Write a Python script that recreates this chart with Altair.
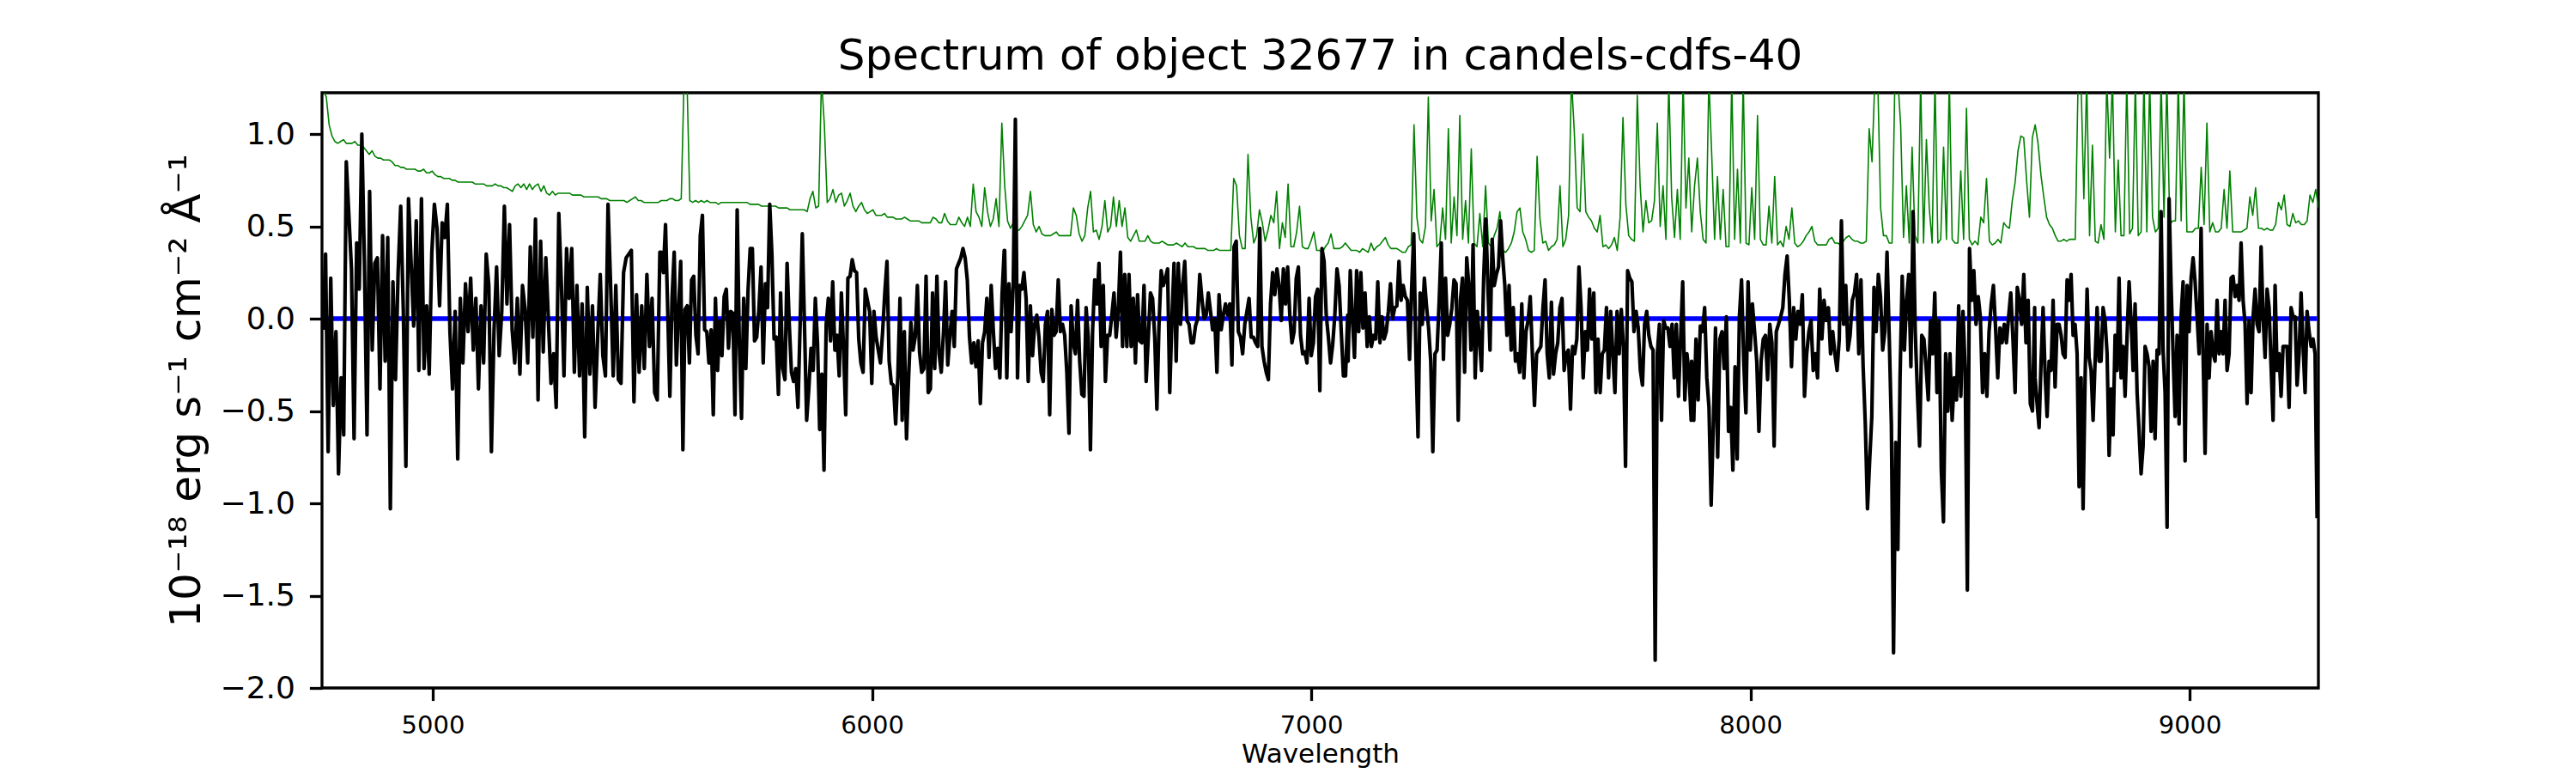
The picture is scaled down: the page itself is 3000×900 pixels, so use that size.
import numpy as np
import pandas as pd
import altair as alt

# ---------------- data ----------------
# Observed flux (black), read in six consecutive wavelength pieces.
FLUX_PIECE_RANGES = [(4750, 5517), (5520, 6301), (6302, 7083),
                     (7084, 7865), (7866, 8647), (8648, 9290)]

FLUX_1 = [-0.06,0.35,-0.72,0.22,-0.47,-0.07,-0.84,-0.32,-0.63,0.85,0.56,0.27,-0.65,0.41,0.16,1.0,0.3,-0.63,0.69,-0.17,
          0.3,0.33,-0.38,0.45,-0.23,0.44,-1.03,0.2,-0.33,0.25,0.61,0.05,-0.8,0.65,0.31,-0.04,0.53,-0.28,0.65,-0.27,
          0.07,-0.3,0.36,0.62,0.49,0.07,0.52,0.44,0.62,-0.07,-0.38,0.04,-0.76,0.11,-0.24,0.19,-0.07,0.22,-0.17,0.11,
          -0.38,0.07,-0.24,0.35,0.18,-0.72,-0.07,0.28,-0.2,0.04,0.61,0.08,0.51,-0.06,-0.24,0.11,-0.3,0.18,0.05,-0.24,
          0.39,-0.1,0.54,-0.44,0.42,-0.18,0.33,-0.01,-0.35,-0.19,-0.48,0.57,0.19,-0.31,0.38,0.11,0.38,-0.29,0.18,-0.31,
          0.08,-0.64,0.17,-0.3,0.07,-0.48,-0.1,0.24,-0.2,-0.31,0.62,0.18,-0.31,0.18,-0.33,-0.35,0.25,0.33,0.35,0.37,
          -0.45,0.13,-0.29,0.07,-0.27,0.24,-0.15,0.11,-0.4,-0.44,0.36]
FLUX_2 = [0.36,0.25,0.51,0.05,-0.42,0.11,0.36,-0.25,0.04,0.31,-0.71,0.05,0.07,-0.24,0.21,0.23,-0.09,-0.19,0.45,0.56,
          -0.06,-0.07,-0.24,-0.06,-0.52,0.11,-0.28,-0.01,-0.2,0.12,0.16,-0.16,0.04,0.03,-0.52,0.59,-0.13,-0.54,0.11,-0.27,
          0.15,0.38,0.38,-0.12,-0.1,0.05,0.28,-0.24,0.19,0.06,0.62,0.35,-0.11,-0.1,-0.41,0.14,-0.27,-0.33,0.3,-0.03,
          -0.29,-0.34,-0.27,-0.48,-0.03,0.46,-0.03,-0.55,-0.38,-0.16,-0.28,0.11,-0.13,-0.6,-0.3,-0.82,-0.03,0.11,-0.12,0.2,
          -0.17,-0.09,-0.31,0.14,-0.16,-0.52,0.22,0.23,0.32,0.26,0.25,-0.11,-0.24,-0.29,0.16,0.1,0.04,-0.35,0.04,-0.1,
          -0.17,-0.24,-0.07,0.14,0.31,-0.23,-0.35,-0.36,-0.57,-0.31,0.11,-0.55,-0.07,-0.65,-0.31,-0.02,-0.17,-0.1,0.18,-0.18,
          -0.29,-0.27,0.23,-0.4,-0.38,0.14,-0.27,0.23,-0.19,-0.29,-0.08,0.2,-0.25,-0.09,0.04,-0.15,0.27,0.3,0.33,0.38,
          0.33,0.21,-0.1,-0.24,-0.13,-0.26,-0.12,-0.46,-0.13,-0.07,0.11,-0.21,0.18,-0.07,-0.27,-0.16,-0.32,0.13,0.37]
FLUX_3 = [0.37,-0.32,0.19,-0.07,0.18,1.08,-0.32,0.18,0.16,0.25,0.11,-0.34,0.07,-0.2,-0.03,0.02,-0.1,-0.29,-0.34,-0.03,
          0.04,-0.52,0.05,-0.09,-0.07,0.21,-0.07,-0.03,-0.09,-0.29,-0.62,0.07,-0.13,-0.19,0.1,-0.23,-0.41,-0.42,0.06,-0.1,
          -0.71,-0.07,0.21,0.08,0.3,-0.15,0.18,-0.34,-0.09,-0.09,0.02,0.14,-0.1,0.05,0.36,-0.15,0.24,-0.15,0.24,-0.15,
          0.11,-0.24,0.13,-0.12,-0.13,0.18,-0.34,-0.1,0.14,0.11,-0.1,-0.49,-0.03,0.26,0.18,0.22,0.27,-0.4,-0.01,0.3,
          -0.23,0.3,-0.03,0.18,0.31,-0.01,-0.03,-0.13,-0.13,-0.04,0.0,0.24,0.11,0.0,0.02,0.14,0.04,-0.06,0.0,-0.29,
          0.13,-0.06,0.02,0.08,0.02,0.08,-0.25,0.39,0.42,-0.07,-0.1,-0.19,-0.03,0.04,0.11,-0.1,-0.1,-0.13,-0.15,0.49,
          -0.15,-0.23,-0.29,-0.33,0.08,0.25,0.13,0.27,0.18,-0.01,0.27,0.08,0.28,0.02,-0.13,-0.07,0.22,0.28,-0.09,-0.19,
          -0.18,-0.24,0.11,-0.2,-0.13,0.12,0.16,-0.39,0.38,0.31,0.02,-0.1,-0.24,-0.14,0.02,0.27,0.18,-0.07,-0.31,-0.31,0.02]
FLUX_4 = [-0.23,0.26,0.01,-0.21,0.26,-0.07,0.25,-0.05,0.14,-0.15,0.01,-0.15,-0.09,-0.11,0.2,-0.13,0.01,-0.11,-0.07,0.04,
          0.19,0.0,0.06,0.07,0.31,0.1,0.18,0.12,0.1,-0.22,0.17,0.46,-0.19,-0.64,0.14,-0.03,0.22,0.07,-0.05,-0.23,
          -0.72,-0.19,-0.17,0.1,0.41,-0.22,0.22,-0.09,-0.03,0.06,0.21,0.19,-0.55,0.1,0.22,-0.29,0.33,0.18,-0.17,0.4,
          -0.32,0.04,-0.11,-0.28,0.22,0.54,0.18,-0.17,0.43,0.18,0.24,0.28,0.53,0.33,0.18,-0.09,0.18,-0.17,0.06,-0.23,
          -0.19,-0.29,0.08,-0.32,-0.07,-0.01,0.12,-0.19,-0.47,-0.19,-0.17,-0.15,0.06,0.21,-0.19,-0.32,0.09,-0.3,-0.19,-0.13,
          0.06,0.11,-0.28,-0.19,-0.17,-0.49,-0.15,-0.19,-0.11,0.28,0.06,-0.32,-0.07,-0.17,0.16,-0.11,0.14,-0.4,-0.11,-0.4,
          -0.19,-0.17,0.06,-0.32,0.04,-0.19,-0.4,0.04,-0.19,0.05,-0.15,-0.8,0.26,0.22,0.2,-0.07,0.04,-0.05,-0.28,-0.36,
          -0.03,0.04,-0.09,-0.15,-0.17,-1.85,-0.19,-0.03,-0.55,-0.01,-0.05,-0.05,-0.15,-0.03,-0.32,-0.03,-0.42,-0.11,0.2,-0.44,
          -0.19,-0.3,-0.55]
FLUX_5 = [-0.23,-0.55,-0.11,-0.44,-0.04,-0.07,0.06,-0.32,-0.48,-1.01,-0.57,-0.05,-0.75,-0.11,-0.07,-0.27,0.01,-0.61,-0.48,-0.82,
          -0.26,-0.76,0.01,0.21,-0.23,-0.51,0.2,-0.17,0.08,-0.07,-0.23,-0.61,-0.23,-0.11,-0.09,-0.33,-0.03,-0.13,-0.69,-0.07,
          -0.03,0.01,0.06,0.24,0.34,0.1,-0.26,0.06,-0.11,0.04,-0.03,0.13,-0.42,-0.19,-0.07,-0.01,-0.28,-0.19,-0.32,0.16,
          -0.11,0.1,-0.01,0.06,-0.19,-0.07,-0.19,-0.28,-0.11,0.53,-0.03,0.18,-0.17,-0.09,0.1,0.14,0.24,-0.19,0.21,-0.26,
          -0.57,-1.03,-0.77,-0.53,0.17,-0.07,0.24,0.12,-0.17,-0.07,0.36,-0.09,-0.57,-1.81,-0.67,-1.25,-0.32,0.23,-0.17,0.1,
          0.24,-0.26,0.58,-0.07,-0.4,-0.69,-0.09,-0.11,-0.26,-0.44,-0.01,-0.19,0.14,-0.4,-0.01,-0.82,-1.1,-0.19,-0.5,-0.19,
          -0.55,-0.32,-0.44,0.07,-0.42,0.04,-0.28,-1.47,0.38,0.1,0.26,-0.03,0.12,0.01,-0.4,-0.19,-0.42,-0.07,0.08,0.18,
          -0.05,-0.32,-0.05,-0.13,-0.03,-0.13,0.01,0.14,-0.11,-0.4,0.17,0.1,-0.03,0.24,-0.13,0.1,-0.46,-0.5,0.06]
FLUX_6 = [-0.32,-0.46,-0.59,-0.23,0.06,-0.3,-0.53,-0.23,-0.28,0.1,-0.37,-0.03,-0.03,-0.09,-0.19,-0.21,0.21,0.1,0.24,-0.09,
          -0.03,-0.19,-0.91,-0.32,-1.03,-0.32,0.16,-0.21,-0.28,-0.55,-0.23,0.06,-0.23,-0.23,0.06,-0.01,-0.19,-0.74,-0.38,-0.63,
          -0.09,-0.28,0.22,-0.32,-0.15,-0.42,-0.09,0.2,-0.01,-0.28,0.08,-0.4,-0.61,-0.84,-0.69,-0.15,-0.19,-0.26,-0.61,-0.23,
          -0.65,-0.17,-0.19,0.58,-0.17,-0.4,-1.13,0.65,0.18,-0.19,-0.53,-0.09,-0.57,0.01,0.2,-0.77,0.18,-0.07,0.22,0.33,
          0.2,0.01,-0.19,0.49,-0.19,-0.73,-0.03,-0.32,-0.07,-0.19,-0.23,0.1,-0.19,-0.07,-0.19,0.1,-0.28,-0.19,0.22,0.23,
          0.12,0.18,0.1,0.41,0.1,-0.03,-0.46,-0.01,-0.4,0.01,0.16,-0.03,-0.07,0.39,0.01,-0.21,0.16,0.06,-0.26,-0.55,
          0.18,-0.28,-0.19,-0.42,-0.15,-0.15,-0.15,-0.48,0.06,0.01,0.01,-0.36,-0.19,0.14,-0.15,-0.4,0.04,-0.07,-0.15,-0.11,
          -0.19,-1.08]
FLUX_PIECES = [FLUX_1, FLUX_2, FLUX_3, FLUX_4, FLUX_5, FLUX_6]

# Noise / sky spectrum (green), on a regular wavelength grid.
# 1.3 marks sky lines that run off the top of the plot.
SKY_WL_START = 4738.0
SKY_WL_STEP = 6.517
SKY_1 = [1.3,1.3,1.24,1.2,1.05,0.99,0.96,0.95,0.96,0.97,0.95,0.95,0.95,0.96,0.94,0.94,0.93,0.91,0.89,0.91,
         0.88,0.87,0.87,0.86,0.86,0.86,0.85,0.83,0.83,0.82,0.82,0.81,0.81,0.81,0.81,0.8,0.8,0.81,0.79,0.79,
         0.8,0.78,0.77,0.77,0.76,0.76,0.76,0.75,0.75,0.74,0.74,0.74,0.74,0.74,0.74,0.73,0.73,0.73,0.73,0.72,
         0.72,0.72,0.73,0.72,0.72,0.71,0.71,0.7,0.69,0.72,0.73,0.71,0.73,0.7,0.73,0.7,0.72,0.73,0.69,0.72,
         0.68,0.67,0.69,0.67,0.68,0.68,0.68,0.68,0.68,0.67,0.67,0.67,0.67,0.66,0.66,0.66,0.66,0.66,0.66,0.65,
         0.65,0.65,0.64,0.64,0.64,0.64,0.64,0.64,0.63,0.64,0.65,0.66,0.64,0.64,0.63,0.63,0.63,0.63,0.63,0.63]
SKY_2 = [0.64,0.64,0.64,0.65,0.65,0.64,0.64,0.65,1.3,1.3,0.64,0.63,0.64,0.63,0.64,0.63,0.64,0.63,0.63,0.63,
         0.62,0.63,0.63,0.63,0.63,0.63,0.63,0.63,0.63,0.63,0.63,0.62,0.62,0.62,0.62,0.61,0.61,0.61,0.61,0.61,
         0.61,0.6,0.6,0.6,0.6,0.59,0.59,0.59,0.59,0.59,0.59,0.58,0.65,0.69,0.6,0.61,1.3,1.05,0.63,0.65,
         0.7,0.63,0.67,0.68,0.61,0.64,0.68,0.61,0.58,0.61,0.63,0.59,0.57,0.58,0.59,0.56,0.56,0.56,0.57,0.55,
         0.55,0.55,0.54,0.54,0.54,0.55,0.54,0.53,0.53,0.53,0.53,0.52,0.52,0.52,0.52,0.55,0.54,0.52,0.52,0.57,
         0.53,0.51,0.51,0.51,0.55,0.52,0.5,0.55,0.5,0.73,0.58,0.55,0.5,0.71,0.58,0.5,0.54,0.65,0.5,1.06]
SKY_3 = [0.72,0.53,0.49,0.52,0.48,0.48,0.5,0.53,0.56,0.69,0.51,0.47,0.5,0.46,0.45,0.45,0.45,0.46,0.47,0.45,
         0.45,0.45,0.45,0.45,0.6,0.56,0.46,0.42,0.45,0.6,0.69,0.47,0.48,0.43,0.5,0.64,0.47,0.5,0.66,0.5,
         0.64,0.5,0.6,0.44,0.42,0.45,0.48,0.42,0.42,0.42,0.45,0.42,0.41,0.41,0.41,0.42,0.41,0.4,0.4,0.4,
         0.41,0.4,0.39,0.41,0.39,0.39,0.39,0.38,0.38,0.38,0.38,0.37,0.37,0.37,0.38,0.37,0.37,0.37,0.37,0.37,
         0.76,0.72,0.45,0.38,0.38,0.89,0.55,0.41,0.45,0.59,0.52,0.42,0.48,0.56,0.52,0.69,0.38,0.52,0.44,0.73,
         0.39,0.39,0.47,0.61,0.39,0.38,0.38,0.42,0.47,0.37,0.37,0.36,0.39,0.41,0.46,0.38,0.38,0.38,0.39,0.41]
SKY_4 = [0.39,0.37,0.37,0.37,0.36,0.38,0.37,0.36,0.41,0.37,0.39,0.4,0.42,0.44,0.4,0.38,0.38,0.38,0.37,0.36,
         0.36,0.39,0.4,1.05,0.55,0.43,0.41,0.5,1.2,0.53,0.7,0.39,0.41,0.6,0.43,1.03,0.41,0.66,0.45,1.1,
         0.43,0.64,0.41,0.92,0.41,0.39,0.57,0.39,0.72,0.41,0.39,0.45,0.49,0.58,0.37,0.36,0.38,0.41,0.47,0.58,
         0.6,0.47,0.43,0.37,0.36,0.37,0.88,0.54,0.41,0.42,0.37,0.39,0.4,0.43,0.72,0.39,0.43,0.56,1.3,1.01,
         0.6,0.58,1.0,0.58,0.55,0.53,0.49,0.47,0.56,0.39,0.4,0.38,0.4,0.44,0.37,0.55,1.09,0.62,0.45,0.43,
         0.42,1.21,0.72,0.47,0.64,0.52,0.53,0.64,1.06,0.5,0.72,0.43,1.3,0.66,0.44,0.7,0.43,1.3,0.6,0.87]
SKY_5 = [0.47,0.72,0.87,0.58,0.43,0.41,1.3,0.89,0.43,0.77,0.43,0.7,0.39,0.39,1.3,0.43,0.81,0.41,1.3,0.41,
         0.4,0.71,0.43,1.1,0.43,0.4,0.4,0.61,0.41,0.77,0.4,0.42,0.39,0.5,0.43,0.6,0.41,0.39,0.4,0.42,
         0.45,0.47,0.5,0.42,0.4,0.4,0.4,0.4,0.43,0.44,0.41,0.41,0.4,0.42,0.44,0.45,0.43,0.42,0.42,0.41,
         0.41,0.42,1.03,0.85,1.3,1.3,0.6,0.45,0.45,0.41,0.41,1.3,1.3,1.05,0.44,0.72,0.41,0.93,0.45,0.41,
         1.3,0.41,0.97,0.6,0.41,1.3,0.41,0.43,0.93,0.43,1.3,0.43,0.41,0.41,0.8,0.43,1.14,0.43,0.4,0.42,
         0.4,0.55,0.52,0.76,0.42,0.4,0.41,0.43,0.41,0.52,0.5,0.49,0.64,0.74,0.91,0.99,0.98,0.75,0.55,0.98]
SKY_6 = [1.05,0.95,0.78,0.66,0.55,0.51,0.49,0.45,0.42,0.42,0.43,0.42,0.43,0.43,0.43,1.3,1.3,0.65,1.3,0.45,
         0.94,0.42,0.41,0.51,0.43,1.3,0.87,1.3,0.47,0.86,0.45,0.45,1.3,0.46,0.49,1.3,0.45,0.47,1.3,0.47,
         1.3,0.55,0.47,0.49,1.3,0.55,1.3,0.51,0.53,0.53,1.3,0.53,1.3,0.47,0.47,0.47,0.49,0.49,0.82,0.51,
         1.06,0.47,0.52,0.47,0.47,0.49,0.7,0.49,0.8,0.47,0.47,0.47,0.47,0.48,0.49,0.66,0.56,0.71,0.49,0.49,
         0.48,0.49,0.48,0.48,0.51,0.63,0.59,0.67,0.51,0.5,0.57,0.52,0.53,0.51,0.51,0.53,0.67,0.63,0.7,0.6]
SKY_PIECES = [SKY_1, SKY_2, SKY_3, SKY_4, SKY_5, SKY_6]

# Model (blue): flat at zero across the observed range.
MODEL_WL = [4750, 9290]
MODEL_FLUX = [0.0, 0.0]

X_DOMAIN = [4747.8, 9293.0]
Y_DOMAIN = [-2.0, 1.224]
X_TICKS = [5000, 6000, 7000, 8000, 9000]
Y_TICKS = [-2.0, -1.5, -1.0, -0.5, 0.0, 0.5, 1.0]

TITLE = "Spectrum of object 32677 in candels-cdfs-40"
X_TITLE = "Wavelength"
Y_TITLE = "10\u207b\u00b9\u2078 erg s\u207b\u00b9 cm\u207b\u00b2 \u00c5\u207b\u00b9"

# ---------------- tables ----------------
flux_wl, flux_val = [], []
for (a, b), vals in zip(FLUX_PIECE_RANGES, FLUX_PIECES):
    flux_wl.extend(np.linspace(a, b, len(vals)).tolist())
    flux_val.extend(vals)
flux_df = pd.DataFrame({"wl": flux_wl, "flux": flux_val})

sky_vals = [v for piece in SKY_PIECES for v in piece]
sky_wl = [SKY_WL_START + SKY_WL_STEP * i for i in range(len(sky_vals))]
sky_df = pd.DataFrame({"wl": sky_wl, "flux": sky_vals})

model_df = pd.DataFrame({"wl": MODEL_WL, "flux": MODEL_FLUX})

FONT = "DejaVu Sans"

xs = alt.Scale(domain=X_DOMAIN, nice=False, zero=False)
ys = alt.Scale(domain=Y_DOMAIN, nice=False, zero=False)

x_axis = alt.Axis(values=X_TICKS, format="d", title=X_TITLE, grid=False, domain=False,
                  labelFont=FONT, labelFontSize=29, labelColor="black", labelPadding=15,
                  tickSize=14.6, tickWidth=3.3, tickColor="black",
                  titleFont=FONT, titleFontSize=31, titleFontWeight="normal", titleColor="black",
                  titleY=86, titleBaseline="alphabetic")
y_axis = alt.Axis(values=Y_TICKS, format=".1f", title=Y_TITLE, grid=False, domain=False,
                  labelFont=FONT, labelFontSize=36, labelColor="black", labelPadding=17,
                  tickSize=14.6, tickWidth=3.3, tickColor="black",
                  titleFont=FONT, titleFontSize=50, titleFontWeight="normal", titleColor="black",
                  titleX=-143, titleY=346.5, titleAngle=270, titleAlign="center",
                  titleBaseline="alphabetic")

sky = alt.Chart(sky_df).mark_line(clip=True, color="#008000", strokeWidth=1.6, strokeJoin="round").encode(
    x=alt.X("wl:Q", scale=xs, axis=x_axis),
    y=alt.Y("flux:Q", scale=ys, axis=y_axis),
)
model = alt.Chart(model_df).mark_line(clip=True, color="#0000ff", strokeWidth=5.5).encode(
    x=alt.X("wl:Q", scale=xs),
    y=alt.Y("flux:Q", scale=ys),
)
flux = alt.Chart(flux_df).mark_line(clip=True, color="black", strokeWidth=4.2, strokeJoin="round").encode(
    x=alt.X("wl:Q", scale=xs),
    y=alt.Y("flux:Q", scale=ys),
)

chart = alt.layer(sky, model, flux).properties(
    width=2325,
    height=693,
    title=alt.TitleParams(TITLE, font=FONT, fontSize=50, fontWeight="normal", color="black",
                          anchor="middle", frame="group", offset=9, dy=32, baseline="alphabetic"),
    padding={"left": 367, "top": 100, "right": 280, "bottom": 96},
    autosize=alt.AutoSizeParams(type="none"),
).configure(background="white").configure_view(stroke="black", strokeWidth=3.3)

chart.save("out.html", embed_options={"renderer": "svg", "actions": False})
